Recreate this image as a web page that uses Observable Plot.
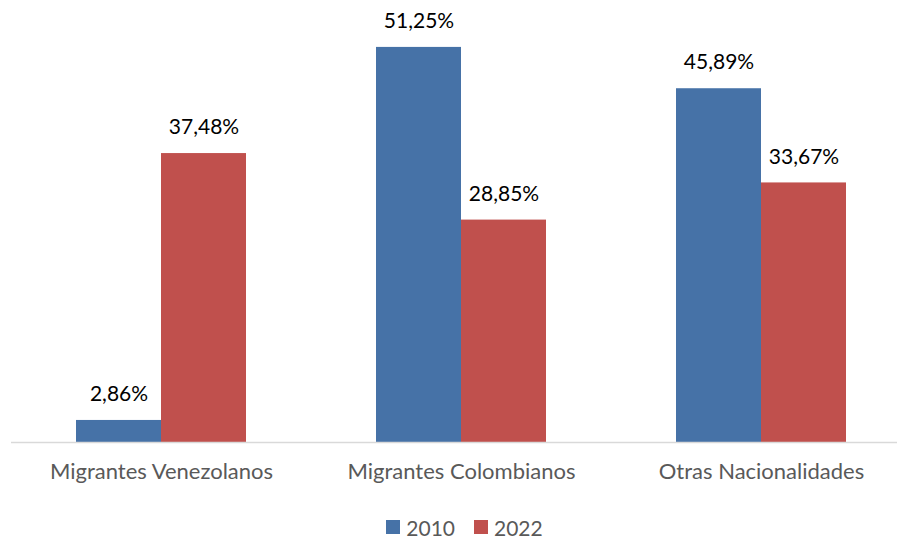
<!DOCTYPE html>
<html>
<head>
<meta charset="utf-8">
<script src="https://cdn.jsdelivr.net/npm/d3@7"></script>
<script src="https://cdn.jsdelivr.net/npm/@observablehq/plot@0.6"></script>
<style>
  html, body { margin: 0; padding: 0; background: #ffffff; }
  #chart { width: 897px; }
  .legend { height: 34px; margin-top: 5px; display: flex; justify-content: center; align-items: center; gap: 19px; font-family: Lato, "Open Sans", sans-serif; font-size: 21px; color: #595959; padding-left: 32px; box-sizing: border-box; }
  .legend span.item { display: flex; align-items: center; gap: 6px; }
  .legend span.sw { width: 14px; height: 14px; display: inline-block; }
</style>
</head>
<body>
<div id="chart"></div>
<script>
const categories = ["Migrantes Venezolanos", "Migrantes Colombianos", "Otras Nacionalidades"];
const years = ["2010", "2022"];
const values2010 = [2.86, 51.25, 45.89];
const values2022 = [37.48, 28.85, 33.67];
const colors = ["#4672A7", "#C0504D"];

const data = categories.flatMap((c, i) => [
  {category: c, year: years[0], value: values2010[i]},
  {category: c, year: years[1], value: values2022[i]}
]);
const fmt = v => v.toFixed(2).replace(".", ",") + "%";

const chart = Plot.plot({
  width: 897,
  height: 505,
  marginLeft: 10,
  marginRight: -15,
  marginTop: 18,
  marginBottom: 63,
  style: {fontFamily: "Lato, 'Open Sans', sans-serif", fontSize: "22px", color: "#595959", background: "#ffffff", overflow: "visible"},
  fx: {domain: categories, paddingInner: 0, paddingOuter: 0, label: null, axis: "bottom", tickSize: 0, tickPadding: 21},
  x: {domain: years, paddingInner: 0, paddingOuter: 0.757, axis: null},
  y: {domain: [0, 55], axis: null},
  color: {domain: years, range: colors},
  marks: [
    Plot.barY(data, {fx: "category", x: "year", y: "value", fill: "year"}),
    Plot.ruleY([0], {stroke: "#D9D9D9", strokeWidth: 1.5}),
    Plot.text(data, {fx: "category", x: "year", y: "value", text: d => fmt(d.value), dy: -26, fontSize: 21, fill: "#000000"})
  ]
});
document.getElementById("chart").appendChild(chart);

const legend = document.createElement("div");
legend.className = "legend";
years.forEach((y, i) => {
  const item = document.createElement("span");
  item.className = "item";
  const sw = document.createElement("span");
  sw.className = "sw";
  sw.style.background = colors[i];
  const t = document.createElement("span");
  t.textContent = y;
  item.appendChild(sw);
  item.appendChild(t);
  legend.appendChild(item);
});
document.getElementById("chart").appendChild(legend);
</script>
</body>
</html>
